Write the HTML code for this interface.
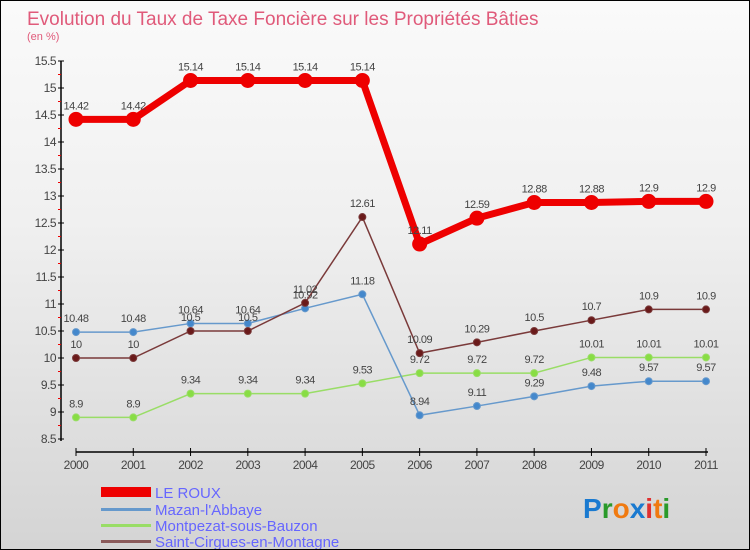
<!DOCTYPE html>
<html><head><meta charset="utf-8"><style>
body{margin:0}
#c{width:750px;height:550px;position:relative;box-sizing:border-box;border:1px solid #000;background:linear-gradient(#fafafa,#f0f0f0 40%,#d4d4d4);font-family:"Liberation Sans",sans-serif;overflow:hidden}
svg{position:absolute;left:0;top:0}
</style></head><body>
<div id="c">
<svg width="750" height="550" id="s">
<text x="26" y="24" font-size="19" fill="#e05a7a">Evolution du Taux de Taxe Foncière sur les Propriétés Bâties</text>
<text x="26" y="39" font-size="11" fill="#e05a7a">(en %)</text>
<g id="axes"></g><g id="series"></g>
<g>
<rect x="100" y="486" width="50" height="10" fill="#e00"/>
<text x="154" y="497" font-size="15" fill="#66f">LE ROUX</text>
<rect x="100" y="507" width="50" height="3" fill="#6699cc"/>
<text x="154" y="514" font-size="15" fill="#66f">Mazan-l'Abbaye</text>
<rect x="100" y="523" width="50" height="3" fill="#99dd66"/>
<text x="154" y="530" font-size="15" fill="#66f">Montpezat-sous-Bauzon</text>
<rect x="100" y="539" width="50" height="3" fill="#8a5a5a"/>
<text x="154" y="546" font-size="15" fill="#66f">Saint-Cirgues-en-Montagne</text>
</g>
<text x="582" y="517" font-size="28" font-weight="bold"><tspan fill="#1a7ad0">P</tspan><tspan fill="#2a9a2a">r</tspan><tspan fill="#f07a10">o</tspan><tspan fill="#1a7ad0">x</tspan><tspan fill="#e03030">i</tspan><tspan fill="#f07a10">t</tspan><tspan fill="#2a9a2a">i</tspan></text>
</svg></div>
<script>
const years=["2000","2001","2002","2003","2004","2005","2006","2007","2008","2009","2010","2011"];
const yTicks=[8.5,9,9.5,10,10.5,11,11.5,12,12.5,13,13.5,14,14.5,15,15.5];
const leRoux=[14.42,14.42,15.14,15.14,15.14,15.14,12.11,12.59,12.88,12.88,12.9,12.9];
const mazan=[10.48,10.48,10.64,10.64,10.92,11.18,8.94,9.11,9.29,9.48,9.57,9.57];
const montpezat=[8.9,8.9,9.34,9.34,9.34,9.53,9.72,9.72,9.72,10.01,10.01,10.01];
const saintCirgues=[10,10,10.5,10.5,11.02,12.61,10.09,10.29,10.5,10.7,10.9,10.9];
const NS="http://www.w3.org/2000/svg";
const X=i=>75+i*(630/11);
const Y=v=>60+(15.5-v)*54;
function mk(t,a,p){const e=document.createElementNS(NS,t);for(const k in a)e.setAttribute(k,a[k]);p.appendChild(e);return e;}
const ax=document.getElementById('axes');
let l=mk('line',{x1:60,y1:60,x2:60,y2:440,stroke:'#000','stroke-width':1.5},ax);


l=mk('line',{x1:75,y1:451,x2:707,y2:451,stroke:'#000','stroke-width':1.5},ax);


yTicks.forEach(v=>{
 mk('line',{x1:57,y1:Y(v),x2:63,y2:Y(v),stroke:'#000'},ax);
 if(v<15.5)mk('line',{x1:57,y1:Y(v+0.25),x2:60,y2:Y(v+0.25),stroke:'#e00'},ax);
 const t=mk('text',{x:55,y:Y(v)+4,'font-size':12,'text-anchor':'end',fill:'#444','letter-spacing':'-0.5'},ax);
 t.textContent=String(v);
 
 
});
years.forEach((y,i)=>{
 mk('line',{x1:X(i),y1:447,x2:X(i),y2:455,stroke:'#000'},ax);
 const t=mk('text',{x:X(i),y:468,'font-size':12,'text-anchor':'middle',fill:'#444','letter-spacing':'-0.5'},ax);
 t.textContent=y;
 
 
});
const sg=document.getElementById('series');
function draw(vals,color,w,r,name,dot){
 const g=mk('g',{},sg);
 
 
 const p=mk('polyline',{points:vals.map((v,i)=>X(i)+','+Y(v)).join(' '),fill:'none',stroke:color,'stroke-width':w},g);
 
 
 vals.forEach((v,i)=>{
  const c=mk('circle',{cx:X(i),cy:Y(v),r:r,fill:dot,stroke:color,'stroke-width':1},g);
  
  
  const t=mk('text',{x:X(i),y:Y(v)-10,'font-size':11,'text-anchor':'middle',fill:'#444','letter-spacing':'-0.5'},g);
  t.textContent=String(v);
  
  
 });
}
draw(montpezat,'#99dd66',1.5,3.5,'montpezat-series','#88dd44');
draw(mazan,'#6699cc',1.5,3.5,'mazan-series','#4488cc');
draw(saintCirgues,'#7a3a3a',1.5,3.5,'saint-cirgues-series','#6a1a1a');
draw(leRoux,'#ee0000',7,7,'le-roux-series','#ee0000');
</script>
</body></html>
